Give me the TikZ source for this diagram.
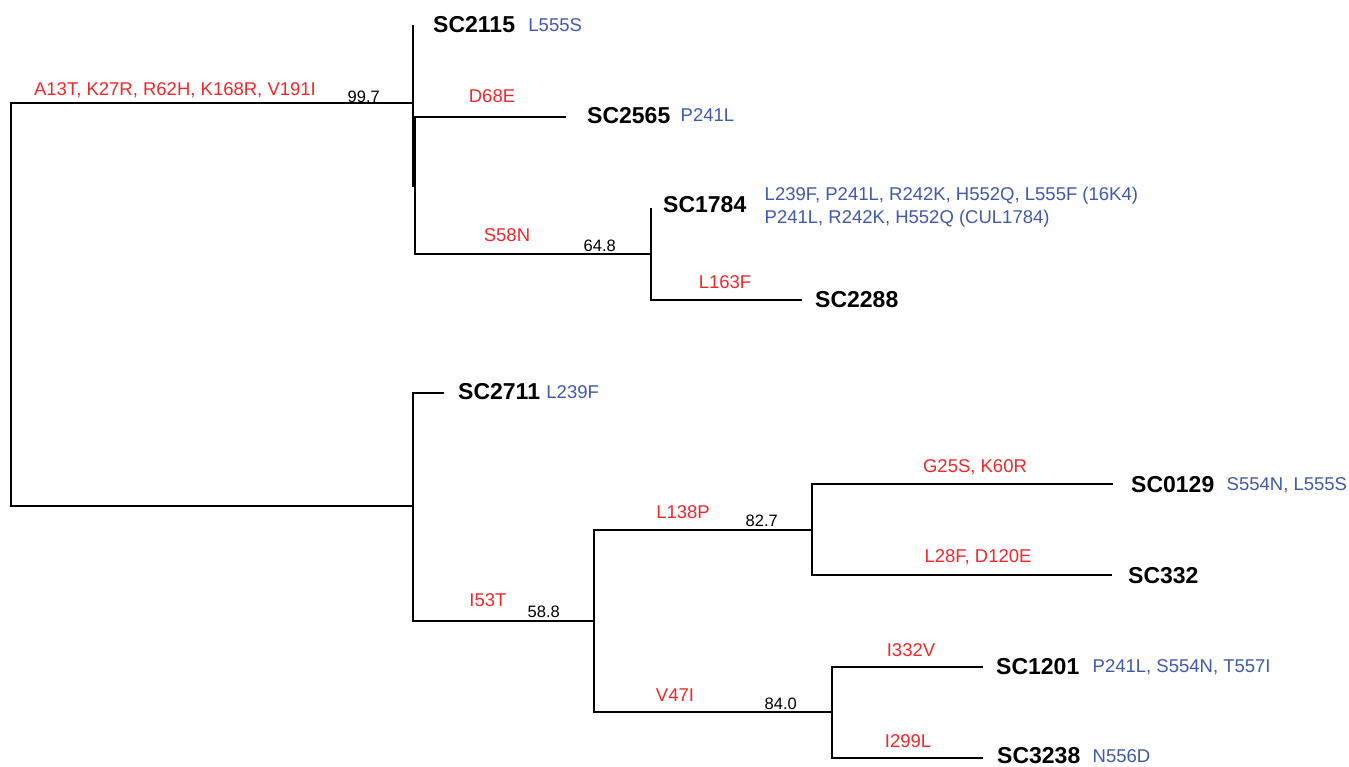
\documentclass[tikz,border=0pt]{standalone}
\usepackage{fontspec}
\setmainfont{Liberation Sans}
\usepackage{tikz}
\usetikzlibrary{positioning}
\usepackage{xcolor}
\definecolor{mutred}{HTML}{F0282D}
\definecolor{siteblue}{HTML}{4159AA}

\tikzset{
  branch/.style={line width=1.3pt},
  taxon/.style={font=\fontsize{23}{23}\selectfont\bfseries,inner sep=0pt,anchor=west,text height=16.5pt,text depth=0pt},
  mut/.style={text=mutred,font=\fontsize{18.5}{18.5}\selectfont,inner sep=0pt,text height=13.2pt,text depth=0pt},
  site/.style={text=siteblue,font=\fontsize{18.5}{18.5}\selectfont,inner sep=0pt,text height=13.2pt,text depth=0pt},
  sitelines/.style={text=siteblue,font=\fontsize{18.5}{23}\selectfont,inner sep=0pt,align=left},
  boot/.style={font=\fontsize{16.5}{16.5}\selectfont,inner sep=0pt,anchor=east,text height=11.8pt,text depth=0pt},
}

\begin{document}
\begin{tikzpicture}[x=1pt,y=-1pt]
  \useasboundingbox (0,0) rectangle (1349,766);
  % inner nodes and branch ends
  \coordinate (root) at (11,304.5);
  \coordinate (nA) at (413,103);
  \coordinate (nA1) at (415,186);
  \coordinate (nC) at (651,254);
  \coordinate (nB) at (413,506);
  \coordinate (nD) at (594,621);
  \coordinate (nE) at (812,530);
  \coordinate (nF) at (832,712);
  \coordinate (e2115) at (413,25);
  \coordinate (e2565) at (566,117);
  \coordinate (e1784) at (651,208);
  \coordinate (e2288) at (802,300);
  \coordinate (e2711) at (444,393);
  \coordinate (e0129) at (1113,484);
  \coordinate (e332) at (1112,575);
  \coordinate (e1201) at (983,667);
  \coordinate (e3238) at (983,758);

  \draw[branch] (root) |- (nA);
  \draw[branch] (root) |- (nB);
  \draw[branch] (nA) |- (e2115);
  \draw[branch] (nA) |- (nA1);
  \draw[branch] (nA1) |- (e2565);
  \draw[branch] (nA1) |- (nC);
  \draw[branch] (nC) |- (e1784);
  \draw[branch] (nC) |- (e2288);
  \draw[branch] (nB) |- (e2711);
  \draw[branch] (nB) |- (nD);
  \draw[branch] (nD) |- (nE);
  \draw[branch] (nD) |- (nF);
  \draw[branch] (nE) |- (e0129);
  \draw[branch] (nE) |- (e332);
  \draw[branch] (nF) |- (e1201);
  \draw[branch] (nF) |- (e3238);

  % tips
  \node[taxon] (sc2115) at (433,24.5) {SC2115};
  \node[taxon] (sc2565) at (587,115) {SC2565};
  \node[taxon] (sc1784) at (663,204.5) {SC1784};
  \node[taxon] (sc2288) at (815,299) {SC2288};
  \node[taxon] (sc2711) at (458,391.5) {SC2711};
  \node[taxon] (sc0129) at (1131,484) {SC0129};
  \node[taxon] (sc332) at (1128,575) {SC332};
  \node[taxon] (sc1201) at (996,666) {SC1201};
  \node[taxon] (sc3238) at (997,755.5) {SC3238};

  \node[site,right=13pt of sc2115] (s2115) {L555S};
  \node[site,right=10pt of sc2565] (s2565) {P241L};
  \node[sitelines,right=18pt of sc1784,yshift=-2.5pt] (s1784) {L239F, P241L, R242K, H552Q, L555F (16K4)\\P241L, R242K, H552Q (CUL1784)};
  \node[site,right=6pt of sc2711] (s2711) {L239F};
  \node[site,right=12pt of sc0129] (s0129) {S554N, L555S};
  \node[site,right=13pt of sc1201] (s1201) {P241L, S554N, T557I};
  \node[site,right=12pt of sc3238] (s3238) {N556D};

  % mutations on branches
  \node[mut] (mA) at (175,89) {A13T, K27R, R62H, K168R, V191I};
  \node[mut] (m2565) at (492,96) {D68E};
  \node[mut] (mC) at (507,235) {S58N};
  \node[mut] (m2288) at (725,282) {L163F};
  \node[mut] (mD) at (488,600) {I53T};
  \node[mut] (mE) at (683,512) {L138P};
  \node[mut] (m0129) at (975,466) {G25S, K60R};
  \node[mut] (m332) at (978,556) {L28F, D120E};
  \node[mut] (mF) at (675,695) {V47I};
  \node[mut] (m1201) at (911,650) {I332V};
  \node[mut] (m3238) at (908,741) {I299L};

  % bootstrap values
  \node[boot] (bA) at (380,96.5) {99.7};
  \node[boot] (bC) at (616,245.5) {64.8};
  \node[boot] (bE) at (778,521) {82.7};
  \node[boot] (bD) at (560,611.5) {58.8};
  \node[boot] (bF) at (797,704) {84.0};
\end{tikzpicture}
\end{document}
